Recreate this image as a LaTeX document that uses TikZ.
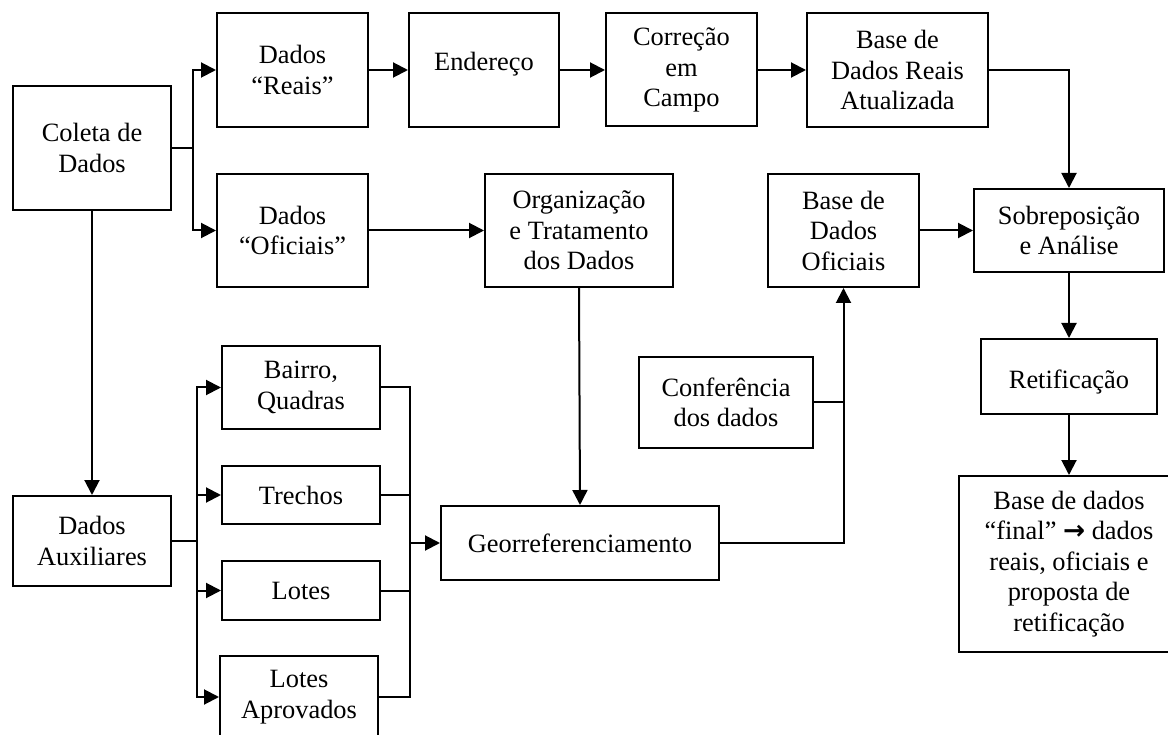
\documentclass[tikz,border=0pt]{standalone}
\usepackage{fontspec}
\setmainfont{Liberation Serif}
\newfontfamily\arrowfont{DejaVu Sans}
\usetikzlibrary{arrows.meta}
\tikzset{
  box/.style={draw, line width=2pt, align=center, inner sep=2pt,
    font=\fontsize{26.4}{30.5}\selectfont},
  conn/.style={line width=2pt},
  arr/.style={conn, -{Triangle[length=15pt,width=15pt]}}
}
\begin{document}
\begin{tikzpicture}[x=1pt,y=-1pt]
\useasboundingbox (0,0) rectangle (1168,735);
% top row
\node[box, minimum width=158pt, minimum height=124pt] (coleta) at (92,148) {Coleta de\\Dados};
\node[box, minimum width=151pt, minimum height=114pt] (reais) at (292.5,70) {Dados\\“Reais”};
\node[box, minimum width=150pt, minimum height=114pt] (end) at (484,70) {\raisebox{6pt}[\height][\depth]{Endereço}};
\node[box, minimum width=151pt, minimum height=113pt] (corr) at (681.5,70) {Correção\\em\\Campo};
\node[box, minimum width=181pt, minimum height=114pt] (bra) at (897.5,70) {Base de\\Dados Reais\\Atualizada};
% second row
\node[box, minimum width=151pt, minimum height=113pt] (ofic) at (292.5,230.5) {Dados\\“Oficiais”};
\node[box, minimum width=188pt, minimum height=113pt] (org) at (579,230.5) {Organização\\e Tratamento\\dos Dados};
\node[box, minimum width=151pt, minimum height=113pt] (bdo) at (843.5,230.5) {Base de\\Dados\\Oficiais};
\node[box, minimum width=190pt, minimum height=83pt] (sob) at (1069,230.5) {Sobreposição\\e Análise};
\node[box, minimum width=176pt, minimum height=75pt] (ret) at (1069,376.5) {\raisebox{-6pt}[\height][\depth]{Retificação}};
\node[box, minimum width=220pt, minimum height=176pt] (fin) at (1069,564) {Base de dados\\“final” {\arrowfont\bfseries →} dados\\reais, oficiais e\\proposta de\\retificação};
% lower part
\node[box, minimum width=174pt, minimum height=91pt] (conf) at (726,402.5) {Conferência\\dos dados};
\node[box, minimum width=278pt, minimum height=74pt] (geo) at (580,543) {Georreferenciamento};
\node[box, minimum width=158pt, minimum height=83pt] (bq) at (301,387.5) {Bairro,\\Quadras};
\node[box, minimum width=158pt, minimum height=58pt] (tr) at (301,495) {Trechos};
\node[box, minimum width=158pt, minimum height=59pt] (lo) at (301,590.5) {Lotes};
\node[box, minimum width=158pt, minimum height=82pt] (la) at (299,697) {Lotes\\Aprovados};
\node[box, minimum width=158pt, minimum height=90pt] (aux) at (92,541) {Dados\\Auxiliares};
% junction coordinates
\coordinate (j1) at (193,148);
\coordinate (j2) at (197,541);
\coordinate (j3) at (410,543);
\coordinate (j4) at (843.5,402.5);
% connectors
\draw[conn] (coleta.east) -- (j1);
\draw[arr] (j1) |- (reais.west);
\draw[arr] (j1) |- (ofic.west);
\draw[arr] (reais.east) -- (end.west);
\draw[arr] (end.east) -- (corr.west);
\draw[arr] (corr.east) -- (bra.west);
\draw[arr] (bra.east) -| (sob.north);
\draw[arr] (ofic.east) -- (org.west);
\draw[arr] (bdo.east) -- (sob.west);
\draw[arr] (sob.south) -- (ret.north);
\draw[arr] (ret.south) -- (fin.north);
\draw[arr] (org.south) -- (geo.north);
\draw[arr] (coleta.south) -- (aux.north);
\draw[conn] (conf.east) -- (j4);
\draw[arr] (geo.east) -| (bdo.south);
\draw[conn] (aux.east) -- (j2);
\draw[arr] (j2) |- (bq.west);
\draw[arr] (j2) |- (tr.west);
\draw[arr] (j2) |- (lo.west);
\draw[arr] (j2) |- (la.west);
\draw[conn] (bq.east) -| (j3);
\draw[conn] (tr.east) -| (j3);
\draw[conn] (lo.east) -| (j3);
\draw[conn] (la.east) -| (j3);
\draw[arr] (j3) -- (geo.west);
\end{tikzpicture}
\end{document}
